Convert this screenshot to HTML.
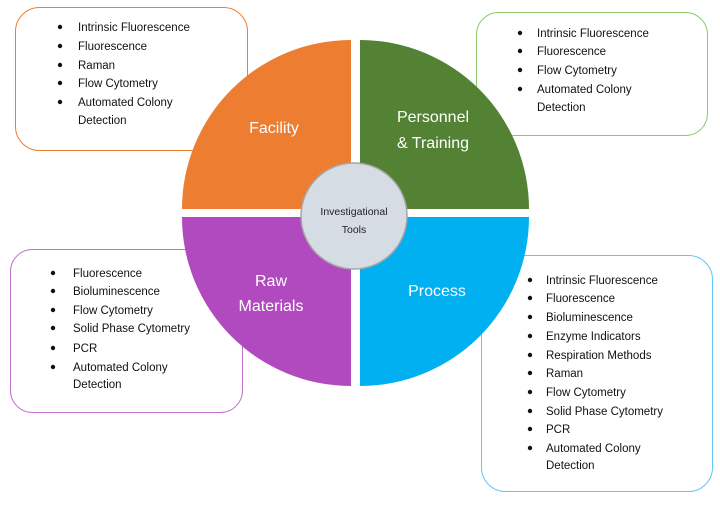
<!DOCTYPE html>
<html><head><style>body{margin:0;background:#fff}svg{display:block}text{font-family:"Liberation Sans",sans-serif}</style></head><body>
<svg width="720" height="507" viewBox="0 0 720 507" xmlns="http://www.w3.org/2000/svg">
<rect x="15.5" y="7.5" width="232" height="143" rx="24" fill="#fff" stroke="#ED7D31"/>
<rect x="476.5" y="12.5" width="231" height="123" rx="22" fill="#fff" stroke="#8CCB6A"/>
<rect x="10.5" y="249.5" width="232" height="163" rx="22" fill="#fff" stroke="#C36FD0"/>
<rect x="481.5" y="255.5" width="231" height="236" rx="24" fill="#fff" stroke="#5BC8F5"/>
<path d="M351 209 L182 209 A169 169 0 0 1 351 40 Z" fill="#ED7D31"/>
<path d="M360 209 L360 40 A169 169 0 0 1 529 209 Z" fill="#548235"/>
<path d="M351 217 L351 386 A169 169 0 0 1 182 217 Z" fill="#B14ABE"/>
<path d="M360 217 L529 217 A169 169 0 0 1 360 386 Z" fill="#00B0F0"/>
<circle cx="354" cy="216" r="53" fill="#D6DCE4" stroke="#A6A6A6" stroke-width="1.5"/>
<g fill="#fff" font-size="16" text-anchor="middle">
<text x="274" y="133">Facility</text>
<text x="433" y="122">Personnel</text>
<text x="433" y="148">&amp; Training</text>
<text x="271" y="286">Raw</text>
<text x="271" y="311">Materials</text>
<text x="437" y="296">Process</text>
</g>
<g font-size="10.5" text-anchor="middle" fill="#222">
<text x="354" y="215">Investigational</text>
<text x="354" y="233">Tools</text>
</g>
<g font-size="11.5" fill="#111">
<g><circle cx="60" cy="27" r="2.2"/><circle cx="60" cy="46" r="2.2"/><circle cx="60" cy="65" r="2.2"/><circle cx="60" cy="83" r="2.2"/><circle cx="60" cy="102" r="2.2"/>
<text x="78" y="31">Intrinsic Fluorescence</text><text x="78" y="50">Fluorescence</text><text x="78" y="69">Raman</text><text x="78" y="87">Flow Cytometry</text><text x="78" y="106">Automated Colony</text><text x="78" y="124">Detection</text></g>
<g><circle cx="520" cy="33" r="2.2"/><circle cx="520" cy="51" r="2.2"/><circle cx="520" cy="70" r="2.2"/><circle cx="520" cy="89" r="2.2"/>
<text x="537" y="37">Intrinsic Fluorescence</text><text x="537" y="55">Fluorescence</text><text x="537" y="74">Flow Cytometry</text><text x="537" y="93">Automated Colony</text><text x="537" y="111">Detection</text></g>
<g><circle cx="53" cy="273" r="2.2"/><circle cx="53" cy="291" r="2.2"/><circle cx="53" cy="310" r="2.2"/><circle cx="53" cy="328" r="2.2"/><circle cx="53" cy="348" r="2.2"/><circle cx="53" cy="367" r="2.2"/>
<text x="73" y="277">Fluorescence</text><text x="73" y="295">Bioluminescence</text><text x="73" y="314">Flow Cytometry</text><text x="73" y="332">Solid Phase Cytometry</text><text x="73" y="352">PCR</text><text x="73" y="371">Automated Colony</text><text x="73" y="388">Detection</text></g>
<g><circle cx="530" cy="280" r="2.2"/><circle cx="530" cy="298" r="2.2"/><circle cx="530" cy="317" r="2.2"/><circle cx="530" cy="336" r="2.2"/><circle cx="530" cy="355" r="2.2"/><circle cx="530" cy="373" r="2.2"/><circle cx="530" cy="392" r="2.2"/><circle cx="530" cy="411" r="2.2"/><circle cx="530" cy="429" r="2.2"/><circle cx="530" cy="448" r="2.2"/>
<text x="546" y="284">Intrinsic Fluorescence</text><text x="546" y="302">Fluorescence</text><text x="546" y="321">Bioluminescence</text><text x="546" y="340">Enzyme Indicators</text><text x="546" y="359">Respiration Methods</text><text x="546" y="377">Raman</text><text x="546" y="396">Flow Cytometry</text><text x="546" y="415">Solid Phase Cytometry</text><text x="546" y="433">PCR</text><text x="546" y="452">Automated Colony</text><text x="546" y="469">Detection</text></g>
</g>
</svg>
</body></html>
